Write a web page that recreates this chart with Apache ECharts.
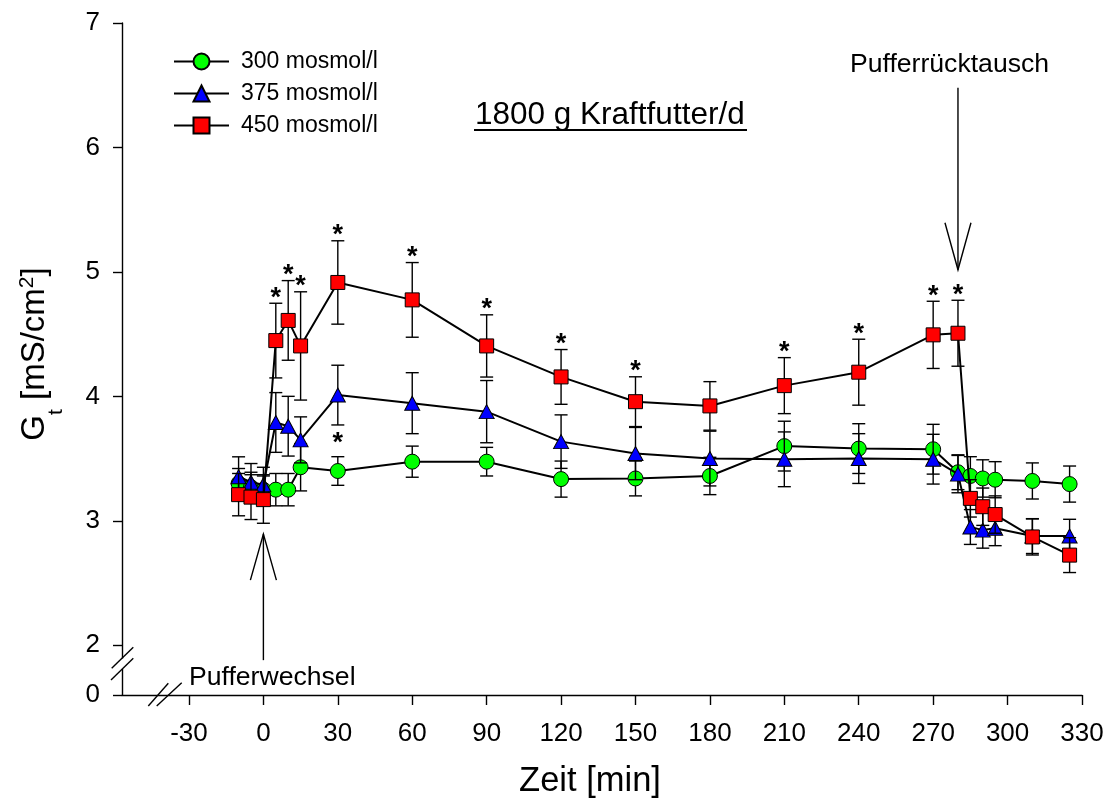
<!DOCTYPE html>
<html><head><meta charset="utf-8">
<script src="https://cdn.jsdelivr.net/npm/echarts@6/dist/echarts.min.js"></script>
<style>html,body{margin:0;padding:0;background:#fff}#c{width:1108px;height:804px}</style>
</head><body><div id="c"></div>
<script>
// ---- data ----
const times   = [-10, -5, 0, 5, 10, 15, 30, 60, 90, 120, 150, 180, 210, 240, 270, 280, 285, 290, 295, 310, 325];
const mean300 = [3.30, 3.27, 3.25, 3.25, 3.25, 3.43, 3.40, 3.475, 3.475, 3.335, 3.34, 3.36, 3.60, 3.58, 3.575, 3.39, 3.36, 3.34, 3.33, 3.32, 3.295];
const err300  = [0.12, 0.12, 0.12, 0.13, 0.13, 0.19, 0.115, 0.125, 0.115, 0.145, 0.14, 0.15, 0.20, 0.20, 0.20, 0.14, 0.155, 0.15, 0.145, 0.145, 0.145];
const mean375 = [3.354, 3.31, 3.29, 3.79, 3.76, 3.65, 4.01, 3.945, 3.877, 3.636, 3.54, 3.50, 3.494, 3.50, 3.495, 3.375, 2.95, 2.925, 2.94, 2.877, 2.877];
const err375  = [0.16, 0.15, 0.14, 0.24, 0.24, 0.185, 0.24, 0.245, 0.25, 0.215, 0.21, 0.22, 0.22, 0.20, 0.20, 0.15, 0.14, 0.145, 0.14, 0.14, 0.135];
const mean450 = [3.21, 3.19, 3.17, 4.448, 4.61, 4.405, 4.915, 4.775, 4.405, 4.156, 3.957, 3.923, 4.086, 4.194, 4.494, 4.507, 3.18, 3.113, 3.05, 2.87, 2.724];
const err450  = [0.17, 0.18, 0.19, 0.30, 0.32, 0.435, 0.335, 0.30, 0.25, 0.22, 0.20, 0.195, 0.225, 0.265, 0.27, 0.265, 0.15, 0.15, 0.15, 0.145, 0.14];
const stars450 = [5, 10, 15, 30, 60, 90, 120, 150, 210, 240, 270, 280];
const stars300 = [30];
const seriesNames = ['300 mosmol/l', '375 mosmol/l', '450 mosmol/l'];
const xTicks = [-30, 0, 30, 60, 90, 120, 150, 180, 210, 240, 270, 300, 330];
const yTickLabels = [0, 2, 3, 4, 5, 6, 7];
const yBreakZero = 1.6;              // axis value where the "0" of the broken axis sits
const xMin = -57, xMax = 330, yMax = 7;
const arrowIn  = {t: 0,   tip: 2.893, end: 1.88};   // Pufferwechsel (arrow points up)
const arrowOut = {t: 280, tip: 5.017, end: 6.48};   // Pufferrücktausch (arrow points down)

const FONT = '"Liberation Sans", Arial, Helvetica, sans-serif';
const yTickPos = yTickLabels.map(v => v === 0 ? yBreakZero : v);

function errData(mean, err) { return times.map((t, i) => [t, mean[i] - err[i], mean[i] + err[i]]); }
function lineData(mean) { return times.map((t, i) => [t, mean[i]]); }
function starData(list, mean, err) { return list.map(t => { const i = times.indexOf(t); return [t, mean[i] + err[i]]; }); }

function errRender(params, api) {
  const x = api.value(0), lo = api.value(1), hi = api.value(2);
  const a = api.coord([x, hi]), b = api.coord([x, lo]);
  const w = 6.5, st = {stroke: '#000', lineWidth: 1.4};
  return {type: 'group', children: [
    {type: 'line', shape: {x1: a[0], y1: a[1], x2: b[0], y2: b[1]}, style: st},
    {type: 'line', shape: {x1: a[0] - w, y1: a[1], x2: a[0] + w, y2: a[1]}, style: st},
    {type: 'line', shape: {x1: b[0] - w, y1: b[1], x2: b[0] + w, y2: b[1]}, style: st}
  ]};
}
function starRender(offset) {
  return function (params, api) {
    const p = api.coord([api.value(0), api.value(1)]);
    return {type: 'text', style: {text: '*', x: p[0], y: p[1] - offset, fill: '#000',
      font: 'bold 27px ' + FONT, align: 'center', verticalAlign: 'middle'}};
  };
}

const colors = ['#00ff00', '#0000ff', '#ff0000'];
const symbols = ['circle', 'triangle', 'rect'];
const sizes = [15, [15, 14], 14];
const means = [mean300, mean375, mean450];
const errs = [err300, err375, err450];

const series = [];
for (let g = 0; g < 3; g++) {
  series.push({type: 'custom', name: 'err' + g, data: errData(means[g], errs[g]), renderItem: errRender,
    z: 2 + g * 2, silent: true, encode: {x: 0, y: [1, 2]}});
  series.push({type: 'line', name: seriesNames[g], data: lineData(means[g]), z: 3 + g * 2,
    symbol: symbols[g], symbolSize: sizes[g],
    itemStyle: {color: colors[g], borderColor: '#000', borderWidth: 1},
    lineStyle: {color: '#000', width: 2}});
}
series.push({type: 'custom', name: 'stars450', data: starData(stars450, mean450, err450), renderItem: starRender(5), z: 10, encode: {x: 0, y: 1}});
series.push({type: 'custom', name: 'stars300', data: starData(stars300, mean300, err300), renderItem: starRender(13), z: 10, encode: {x: 0, y: 1}});

const chart = echarts.init(document.getElementById('c'), null, {renderer: 'canvas'});
const option = {
  animation: false,
  backgroundColor: '#fff',
  textStyle: {fontFamily: FONT},
  grid: {left: 122, right: 26, top: 23, bottom: 109, containLabel: false, outerBoundsMode: 'none'},
  legend: {
    data: seriesNames, orient: 'vertical', left: 173, top: 50, padding: 0, itemWidth: 55, itemHeight: 20, itemGap: 9,
    textStyle: {fontSize: 23, color: '#000', fontFamily: FONT, padding: [0, 0, 0, 7]},
    selectedMode: false
  },
  xAxis: {
    type: 'value', min: xMin, max: xMax,
    axisLine: {show: true, onZero: false, lineStyle: {color: '#000', width: 1.4}},
    axisTick: {show: true, inside: false, length: 10, customValues: xTicks, lineStyle: {color: '#000', width: 1.4}},
    axisLabel: {show: true, customValues: xTicks, fontSize: 26, color: '#000', margin: 26, fontFamily: FONT},
    splitLine: {show: false}
  },
  yAxis: {
    type: 'value', min: yBreakZero, max: yMax,
    axisLine: {show: true, onZero: false, lineStyle: {color: '#000', width: 1.4}},
    axisTick: {show: true, inside: false, length: 9, customValues: yTickPos, lineStyle: {color: '#000', width: 1.4}},
    axisLabel: {show: true, customValues: yTickPos, fontSize: 26, color: '#000', margin: 22, fontFamily: FONT,
      padding: [5, 0, 0, 0],
      formatter: v => (Math.abs(v - yBreakZero) < 1e-6 ? '0' : String(Math.round(v)))},
    splitLine: {show: false}
  },
  series: series
};
chart.setOption(option);

function px(t, v) { return chart.convertToPixel({gridIndex: 0}, [t, v]); }
const aIn0 = px(arrowIn.t, arrowIn.tip), aIn1 = px(arrowIn.t, arrowIn.end);
const aOut0 = px(arrowOut.t, arrowOut.tip), aOut1 = px(arrowOut.t, arrowOut.end);
const ls = {stroke: '#000', lineWidth: 1.4};
const graphics = [
  // Pufferwechsel arrow (points up)
  {type: 'line', shape: {x1: aIn0[0], y1: aIn0[1], x2: aIn1[0], y2: aIn1[1]}, style: ls, z: 20},
  {type: 'polyline', shape: {points: [[aIn0[0] - 13, aIn0[1] + 46], [aIn0[0], aIn0[1]], [aIn0[0] + 13, aIn0[1] + 46]]}, style: Object.assign({fill: null}, ls), z: 20},
  // Pufferrücktausch arrow (points down)
  {type: 'line', shape: {x1: aOut0[0], y1: aOut0[1], x2: aOut1[0], y2: aOut1[1]}, style: ls, z: 20},
  {type: 'polyline', shape: {points: [[aOut0[0] - 13, aOut0[1] - 47], [aOut0[0], aOut0[1]], [aOut0[0] + 13, aOut0[1] - 47]]}, style: Object.assign({fill: null}, ls), z: 20},
  {type: 'text', style: {text: 'Pufferwechsel', x: 189, y: 678, font: '26.6px ' + FONT, fill: '#000', align: 'left', verticalAlign: 'middle'}, z: 20},
  {type: 'text', style: {text: 'Pufferrücktausch', x: 850, y: 65, font: '26.6px ' + FONT, fill: '#000', align: 'left', verticalAlign: 'middle'}, z: 20},
  // title with underline
  {type: 'text', style: {text: '1800 g Kraftfutter/d', x: 475, y: 115, font: '31.5px ' + FONT, fill: '#000', align: 'left', verticalAlign: 'middle'}, z: 20},
  {type: 'line', shape: {x1: 474, y1: 130, x2: 747, y2: 130}, style: {stroke: '#000', lineWidth: 2}, z: 20},
  // axis names
  {type: 'text', style: {text: 'Zeit [min]', x: 590, y: 781, font: '34.5px ' + FONT, fill: '#000', align: 'center', verticalAlign: 'middle'}, z: 20},
  {type: 'text', x: 34.5, y: 354, rotation: Math.PI / 2, z: 20,
    style: {text: '{m|G}{s|t}{m| [mS/cm}{p|2}{m|]}', align: 'center', verticalAlign: 'middle', fill: '#000',
      rich: {
        m: {fontSize: 33, fontFamily: FONT, lineHeight: 64, verticalAlign: 'middle', fill: '#000'},
        s: {fontSize: 21, fontFamily: FONT, verticalAlign: 'bottom', fill: '#000'},
        p: {fontSize: 21, fontFamily: FONT, verticalAlign: 'top', padding: [14, 0, 0, 0], fill: '#000'}
      }}},
  // y-axis break: white gap + diagonals
  {type: 'rect', shape: {x: 118, y: 658.5, width: 8, height: 10.5}, style: {fill: '#fff'}, z: 20},
  {type: 'line', shape: {x1: 111.7, y1: 668.3, x2: 133.3, y2: 647.3}, style: ls, z: 21},
  {type: 'line', shape: {x1: 111, y1: 680, x2: 133.3, y2: 658.3}, style: ls, z: 21},
  // x-axis break diagonals
  {type: 'line', shape: {x1: 148.3, y1: 706, x2: 168.3, y2: 683.3}, style: ls, z: 21},
  {type: 'line', shape: {x1: 156.7, y1: 706, x2: 181.7, y2: 682.7}, style: ls, z: 21}
];
chart.setOption({graphic: graphics});
</script></body></html>
